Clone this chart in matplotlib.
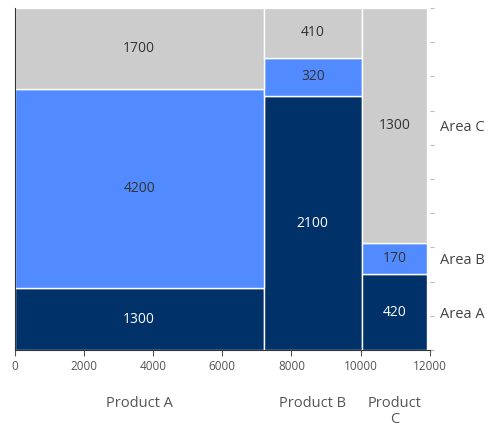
import matplotlib
matplotlib.use("Agg")
import matplotlib.pyplot as plt
import numpy as np

plt.rcParams['font.family'] = ['Open Sans', 'DejaVu Sans']

products = ["Product A", "Product B", "Product C"]
areas = ["Area A", "Area B", "Area C"]
area_a = [1300, 2100, 420]
area_b = [4200, 320, 170]
area_c = [1700, 410, 1300]
colors = ["#003168", "#528BFF", "#CCCCCC"]
text_colors = ["white", "#333333", "#333333"]
x_ticks = [0, 2000, 4000, 6000, 8000, 10000, 12000]

values = np.array([area_a, area_b, area_c], dtype=float)
totals = values.sum(axis=0)
lefts = np.concatenate([[0], np.cumsum(totals)[:-1]])
shares = values / totals
bottoms = np.vstack([np.zeros(len(products)), np.cumsum(shares, axis=0)[:-1]])

fig = plt.figure(figsize=(5.01, 4.28), dpi=100)
ax = fig.add_axes([14.5 / 501, 1 - 350 / 428, (430 - 14.5) / 501, (350 - 8) / 428])

for i in range(len(areas)):
    ax.bar(lefts, shares[i], width=totals, bottom=bottoms[i], align="edge",
           color=colors[i], edgecolor="white", linewidth=1.0)
    for j in range(len(products)):
        ax.text(lefts[j] + totals[j] / 2, bottoms[i][j] + shares[i][j] / 2,
                f"{int(values[i][j])}", ha="center", va="center",
                fontsize=10, color=text_colors[i])

ax.set_xlim(0, 12000)
ax.set_ylim(0, 1)
ax.set_xticks(x_ticks)
ax.set_xticklabels([str(t) for t in x_ticks], fontsize=8.5, color="#555555")
ax.tick_params(axis="x", length=4, color="#555555", pad=3)

for s in ["top", "right"]:
    ax.spines[s].set_visible(False)
ax.spines["left"].set_color("#333333")
ax.spines["bottom"].set_color("#333333")

# area names beside the last column
ax2 = ax.twinx()
ax2.set_ylim(0, 1)
last = len(products) - 1
ax2.set_yticks(bottoms[:, last] + shares[:, last] / 2)
ax2.set_yticklabels(areas, fontsize=10.5, color="#444444")
ax2.tick_params(axis="y", length=0, pad=7)
for s in ax2.spines.values():
    s.set_visible(False)

# light percentage ticks on the right edge
ax.set_yticks(np.arange(0, 1.01, 0.1))
ax.set_yticklabels([])
ax.tick_params(axis="y", left=False, right=True, length=3, color="#BBBBBB")

# product names under each column
for j, name in enumerate(products):
    label = name if totals[j] > 2500 else name.replace(" ", "\n")
    ax.text(lefts[j] + totals[j] / 2, -0.135, label, ha="center", va="top",
            fontsize=10.5, color="#555555", linespacing=1.05,
            transform=ax.get_xaxis_transform())

fig.savefig("out.png", dpi=100)
